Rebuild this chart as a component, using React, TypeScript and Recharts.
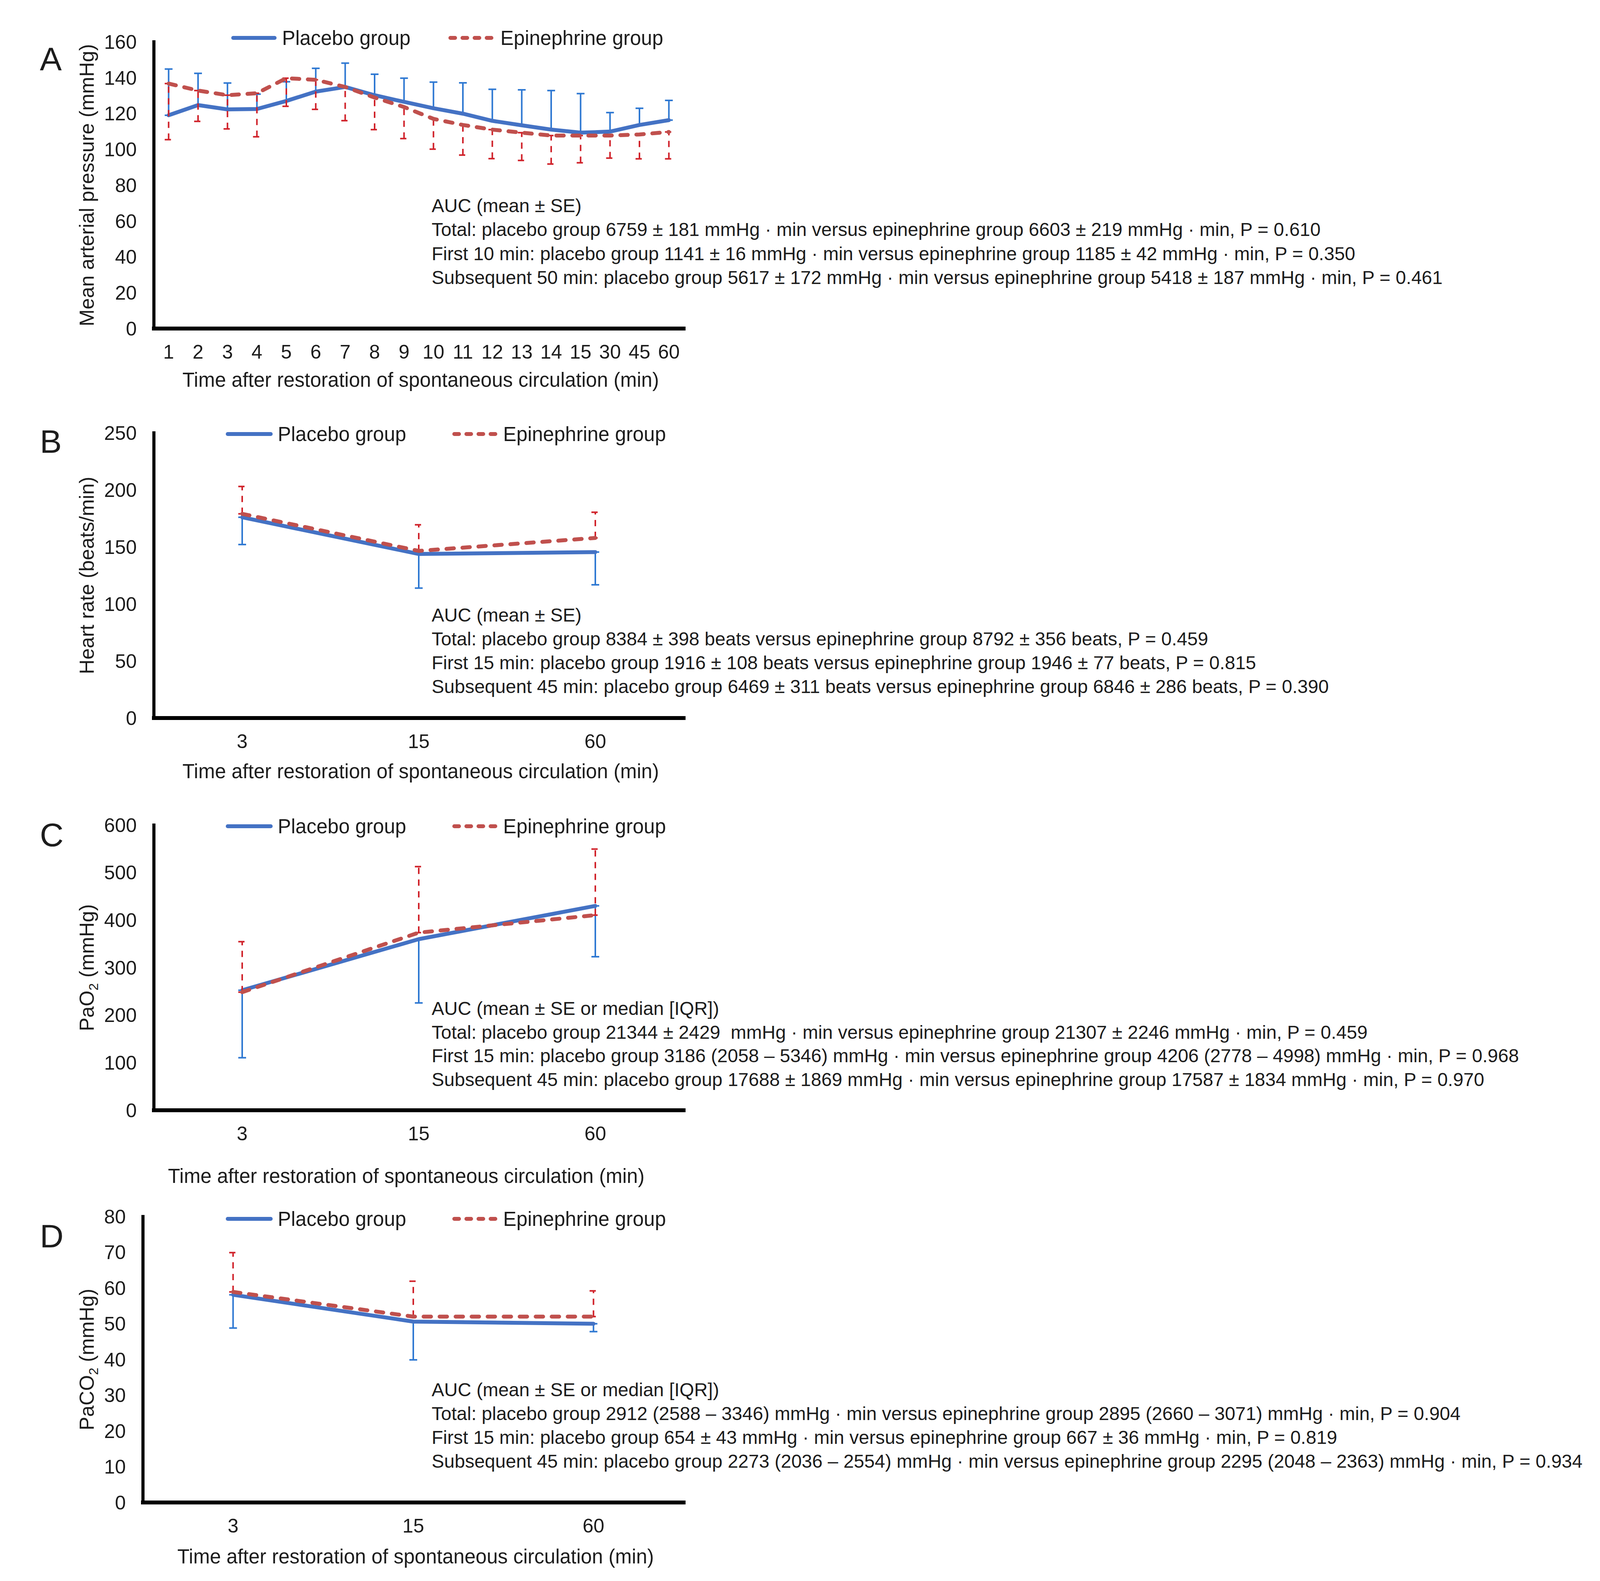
import { LineChart, Line, XAxis, YAxis, ErrorBar, Legend } from "recharts";

const FONT = '"Liberation Sans", Arial, Helvetica, sans-serif';
const INK = "#1c1c1c";
const BLUE = "#4472c4";
const RED = "#c0504d";
const BLUE_BAR = "#2e78d2";
const RED_BAR = "#d0222a";
const DASH = "19 22";
const LEGEND_DASH = "12 19";
const BAR_DASH = "16 14";
const CHART_W = 1800;
const Y_W = 120;
const X_H = 80;
const TEXT_SIZE = 51;
const TICK_SIZE = 50;
const NOTE_SIZE = 48;

const SERIES = ["Placebo group", "Epinephrine group"];

// A: mean arterial pressure
const mapMinutes = ["1", "2", "3", "4", "5", "6", "7", "8", "9", "10", "11", "12", "13", "14", "15", "30", "45", "60"];
const mapPlacebo = [119, 124.7, 122.3, 122.5, 127, 132.2, 134.8, 130.2, 126.5, 122.9, 119.9, 115.9, 113.4, 111, 109.3, 109.9, 113.6, 116.3];
const mapPlaceboUpper = [144.8, 142.4, 137, 130.8, 137.7, 145.2, 148.1, 141.9, 139.7, 137.5, 137.1, 133.5, 133.2, 132.8, 131.1, 120.5, 122.9, 127.3];
const mapEpinephrine = [136.7, 132.8, 130.2, 131.3, 139.7, 138.8, 134.8, 128.9, 123.6, 117, 113.6, 111, 109.3, 107.7, 107.7, 107.7, 108.3, 109.7];
const mapEpinephrineLower = [105.4, 115.6, 111.4, 107, 124, 122.3, 116, 111, 106, 100.1, 96.8, 94.8, 93.8, 91.8, 92.5, 95.1, 94.7, 94.7];
const mapTicks = [0, 20, 40, 60, 80, 100, 120, 140, 160];

// B: heart rate
const hrMinutes = ["3", "15", "60"];
const hrPlacebo = [176, 143.8, 145.5];
const hrPlaceboLower = [152.1, 113.9, 116.8];
const hrEpinephrine = [179, 146.5, 157.9];
const hrEpinephrineUpper = [203, 169.4, 180.4];
const hrTicks = [0, 50, 100, 150, 200, 250];

// C: PaO2
const po2Minutes = ["3", "15", "60"];
const po2Placebo = [252.5, 360, 430];
const po2PlaceboLower = [110.5, 225.8, 323];
const po2Epinephrine = [248.5, 373.7, 410.5];
const po2EpinephrineUpper = [354.7, 512.6, 549.5];
const po2Ticks = [0, 100, 200, 300, 400, 500, 600];

// D: PaCO2
const pco2Minutes = ["3", "15", "60"];
const pco2Placebo = [58.1, 50.6, 50];
const pco2PlaceboLower = [48.8, 39.9, 47.8];
const pco2Epinephrine = [58.9, 52, 52];
const pco2EpinephrineUpper = [69.9, 61.9, 59.2];
const pco2Ticks = [0, 10, 20, 30, 40, 50, 60, 70, 80];

const mapNotes = [
  "AUC (mean ± SE)",
  "Total: placebo group 6759 ± 181 mmHg · min versus epinephrine group 6603 ± 219 mmHg · min, P = 0.610",
  "First 10 min: placebo group 1141 ± 16 mmHg · min versus epinephrine group 1185 ± 42 mmHg · min, P = 0.350",
  "Subsequent 50 min: placebo group 5617 ± 172 mmHg · min versus epinephrine group 5418 ± 187 mmHg · min, P = 0.461",
];
const hrNotes = [
  "AUC (mean ± SE)",
  "Total: placebo group 8384 ± 398 beats versus epinephrine group 8792 ± 356 beats, P = 0.459",
  "First 15 min: placebo group 1916 ± 108 beats versus epinephrine group 1946 ± 77 beats, P = 0.815",
  "Subsequent 45 min: placebo group 6469 ± 311 beats versus epinephrine group 6846 ± 286 beats, P = 0.390",
];
const po2Notes = [
  "AUC (mean ± SE or median [IQR])",
  "Total: placebo group 21344 ± 2429  mmHg · min versus epinephrine group 21307 ± 2246 mmHg · min, P = 0.459",
  "First 15 min: placebo group 3186 (2058 – 5346) mmHg · min versus epinephrine group 4206 (2778 – 4998) mmHg · min, P = 0.968",
  "Subsequent 45 min: placebo group 17688 ± 1869 mmHg · min versus epinephrine group 17587 ± 1834 mmHg · min, P = 0.970",
];
const pco2Notes = [
  "AUC (mean ± SE or median [IQR])",
  "Total: placebo group 2912 (2588 – 3346) mmHg · min versus epinephrine group 2895 (2660 – 3071) mmHg · min, P = 0.904",
  "First 15 min: placebo group 654 ± 43 mmHg · min versus epinephrine group 667 ± 36 mmHg · min, P = 0.819",
  "Subsequent 45 min: placebo group 2273 (2036 – 2554) mmHg · min versus epinephrine group 2295 (2048 – 2363) mmHg · min, P = 0.934",
];

const X_TITLE = "Time after restoration of spontaneous circulation (min)";

// placebo bars go up in A, down elsewhere; epinephrine the other way
function buildRows(minutes, placebo, placeboEnd, epi, epiEnd, placeboUp) {
  return minutes.map((t, i) => ({
    t,
    placebo: placebo[i],
    epinephrine: epi[i],
    placeboErr: placeboUp ? [0, placeboEnd[i] - placebo[i]] : [placebo[i] - placeboEnd[i], 0],
    epinephrineErr: placeboUp ? [epi[i] - epiEnd[i], 0] : [0, epiEnd[i] - epi[i]],
  }));
}

const legendA = [[597, 703, 722], [1153, 1259, 1281]];
const legendB = [[583, 693, 711], [1163, 1269, 1288]];

const layouts = {
  A: { top: 0, height: 1040, plotTop: 107, plotBottom: 841, plotLeft: 394, plotRight: 1750, legendY: 97, legend: legendA, xTitleX: 1077, xTitleY: 990, letterY: 180, notesY: [527, 588, 650, 711] },
  B: { top: 1040, height: 1000, plotTop: 1108, plotBottom: 1838, plotLeft: 394, plotRight: 1750, legendY: 1111, legend: legendB, xTitleX: 1077, xTitleY: 1992, letterY: 1159, notesY: [1575, 1636, 1697, 1758] },
  C: { top: 2050, height: 1000, plotTop: 2112, plotBottom: 2842, plotLeft: 394, plotRight: 1750, legendY: 2115, legend: legendB, xTitleX: 1040, xTitleY: 3028, letterY: 2166, notesY: [2582, 2643, 2703, 2764] },
  D: { top: 3070, height: 977, plotTop: 3114, plotBottom: 3846, plotLeft: 366, plotRight: 1750, legendY: 3120, legend: legendB, xTitleX: 1064, xTitleY: 4002, letterY: 3193, notesY: [3558, 3619, 3680, 3741] },
};

function Panel({ letter, layout, rows, ticks, yTitle, notes }) {
  const L = layout;
  const plotTop = L.plotTop - L.top;
  const plotBottom = L.plotBottom - L.top;
  const midY = (plotTop + plotBottom) / 2;
  const pad = (L.plotRight - L.plotLeft) / (2 * rows.length);
  const textStyle = { fontSize: TEXT_SIZE, fill: INK, fontFamily: FONT };
  const tickStyle = { fontSize: TICK_SIZE, fill: INK, fontFamily: FONT };

  const renderLegend = (props) => {
    const items = [...(props.payload || [])].sort(
      (a, b) => SERIES.indexOf(a.value) - SERIES.indexOf(b.value)
    );
    return (
      <svg width={CHART_W} height={70} style={{ display: "block" }}>
        {items.map((entry, i) => {
          const [x1, x2, tx] = L.legend[i];
          return (
            <g key={entry.value}>
              <line
                x1={x1}
                x2={x2}
                y1={35}
                y2={35}
                stroke={entry.color}
                strokeWidth={10}
                strokeLinecap="round"
                strokeDasharray={entry.value === SERIES[1] ? LEGEND_DASH : undefined}
              />
              <text x={tx} y={53} {...textStyle}>
                {entry.value}
              </text>
            </g>
          );
        })}
      </svg>
    );
  };

  return (
    <>
      <div style={{ position: "absolute", left: 0, top: L.top, width: CHART_W, height: L.height }}>
        <LineChart
          width={CHART_W}
          height={L.height}
          data={rows}
          margin={{
            top: plotTop,
            right: CHART_W - L.plotRight,
            bottom: L.height - plotBottom - X_H,
            left: L.plotLeft - Y_W,
          }}
        >
          <XAxis
            dataKey="t"
            interval={0}
            height={X_H}
            padding={{ left: pad, right: pad }}
            tickSize={0}
            tickMargin={41}
            tickLine={false}
            axisLine={{ stroke: "#000", strokeWidth: 10, strokeLinecap: "square" }}
            tick={tickStyle}
            label={() => (
              <text x={L.xTitleX} y={L.xTitleY - L.top} textAnchor="middle" {...textStyle}>
                {X_TITLE}
              </text>
            )}
          />
          <YAxis
            width={Y_W}
            domain={[ticks[0], ticks[ticks.length - 1]]}
            ticks={ticks}
            interval={0}
            tickSize={0}
            tickMargin={44}
            tickLine={false}
            axisLine={{ stroke: "#000", strokeWidth: 8, strokeLinecap: "square" }}
            tick={tickStyle}
            label={() => (
              <text
                x={240}
                y={midY}
                transform={`rotate(-90 240 ${midY})`}
                textAnchor="middle"
                {...textStyle}
                fontSize={52}
              >
                {yTitle}
              </text>
            )}
          />
          <Legend
            verticalAlign="middle"
            align="center"
            layout="horizontal"
            wrapperStyle={{ top: L.legendY - L.top - 35, left: 0, width: CHART_W, height: 70 }}
            content={renderLegend}
          />
          <Line
            type="linear"
            dataKey="placebo"
            name={SERIES[0]}
            stroke={BLUE}
            strokeWidth={10}
            strokeLinecap="round"
            strokeLinejoin="round"
            dot={false}
            activeDot={false}
            isAnimationActive={false}
          >
            <ErrorBar dataKey="placeboErr" direction="y" width={10} stroke={BLUE_BAR} strokeWidth={4} isAnimationActive={false} />
          </Line>
          <Line
            type="linear"
            dataKey="epinephrine"
            name={SERIES[1]}
            stroke={RED}
            strokeWidth={10}
            strokeDasharray={DASH}
            strokeLinecap="round"
            strokeLinejoin="round"
            dot={false}
            activeDot={false}
            isAnimationActive={false}
          >
            <ErrorBar
              dataKey="epinephrineErr"
              direction="y"
              width={10}
              stroke={RED_BAR}
              strokeWidth={4}
              strokeDasharray={BAR_DASH}
              isAnimationActive={false}
            />
          </Line>
        </LineChart>
      </div>
      <div
        style={{
          position: "absolute",
          left: 102,
          top: L.letterY - 71,
          fontSize: 84,
          lineHeight: "84px",
          color: INK,
          fontFamily: FONT,
        }}
      >
        {letter}
      </div>
      {notes.map((line, i) => (
        <div
          key={i}
          style={{
            position: "absolute",
            left: 1105,
            top: L.notesY[i] - 28,
            fontSize: NOTE_SIZE,
            lineHeight: "56px",
            whiteSpace: "pre",
            color: INK,
            fontFamily: FONT,
          }}
        >
          {line}
        </div>
      ))}
    </>
  );
}

export default function App() {
  const mapRows = buildRows(mapMinutes, mapPlacebo, mapPlaceboUpper, mapEpinephrine, mapEpinephrineLower, true);
  const hrRows = buildRows(hrMinutes, hrPlacebo, hrPlaceboLower, hrEpinephrine, hrEpinephrineUpper, false);
  const po2Rows = buildRows(po2Minutes, po2Placebo, po2PlaceboLower, po2Epinephrine, po2EpinephrineUpper, false);
  const pco2Rows = buildRows(pco2Minutes, pco2Placebo, pco2PlaceboLower, pco2Epinephrine, pco2EpinephrineUpper, false);

  return (
    <div
      style={{
        position: "absolute",
        left: 0,
        top: 0,
        width: 4316,
        height: 4047,
        background: "#fff",
        overflow: "hidden",
        fontFamily: FONT,
      }}
    >
      <Panel letter="A" layout={layouts.A} rows={mapRows} ticks={mapTicks} yTitle="Mean arterial pressure (mmHg)" notes={mapNotes} />
      <Panel letter="B" layout={layouts.B} rows={hrRows} ticks={hrTicks} yTitle="Heart rate (beats/min)" notes={hrNotes} />
      <Panel
        letter="C"
        layout={layouts.C}
        rows={po2Rows}
        ticks={po2Ticks}
        yTitle={
          <>
            PaO<tspan dy={11} fontSize={34}>2</tspan>
            <tspan dy={-11}> (mmHg)</tspan>
          </>
        }
        notes={po2Notes}
      />
      <Panel
        letter="D"
        layout={layouts.D}
        rows={pco2Rows}
        ticks={pco2Ticks}
        yTitle={
          <>
            PaCO<tspan dy={11} fontSize={34}>2</tspan>
            <tspan dy={-11}> (mmHg)</tspan>
          </>
        }
        notes={pco2Notes}
      />
    </div>
  );
}
